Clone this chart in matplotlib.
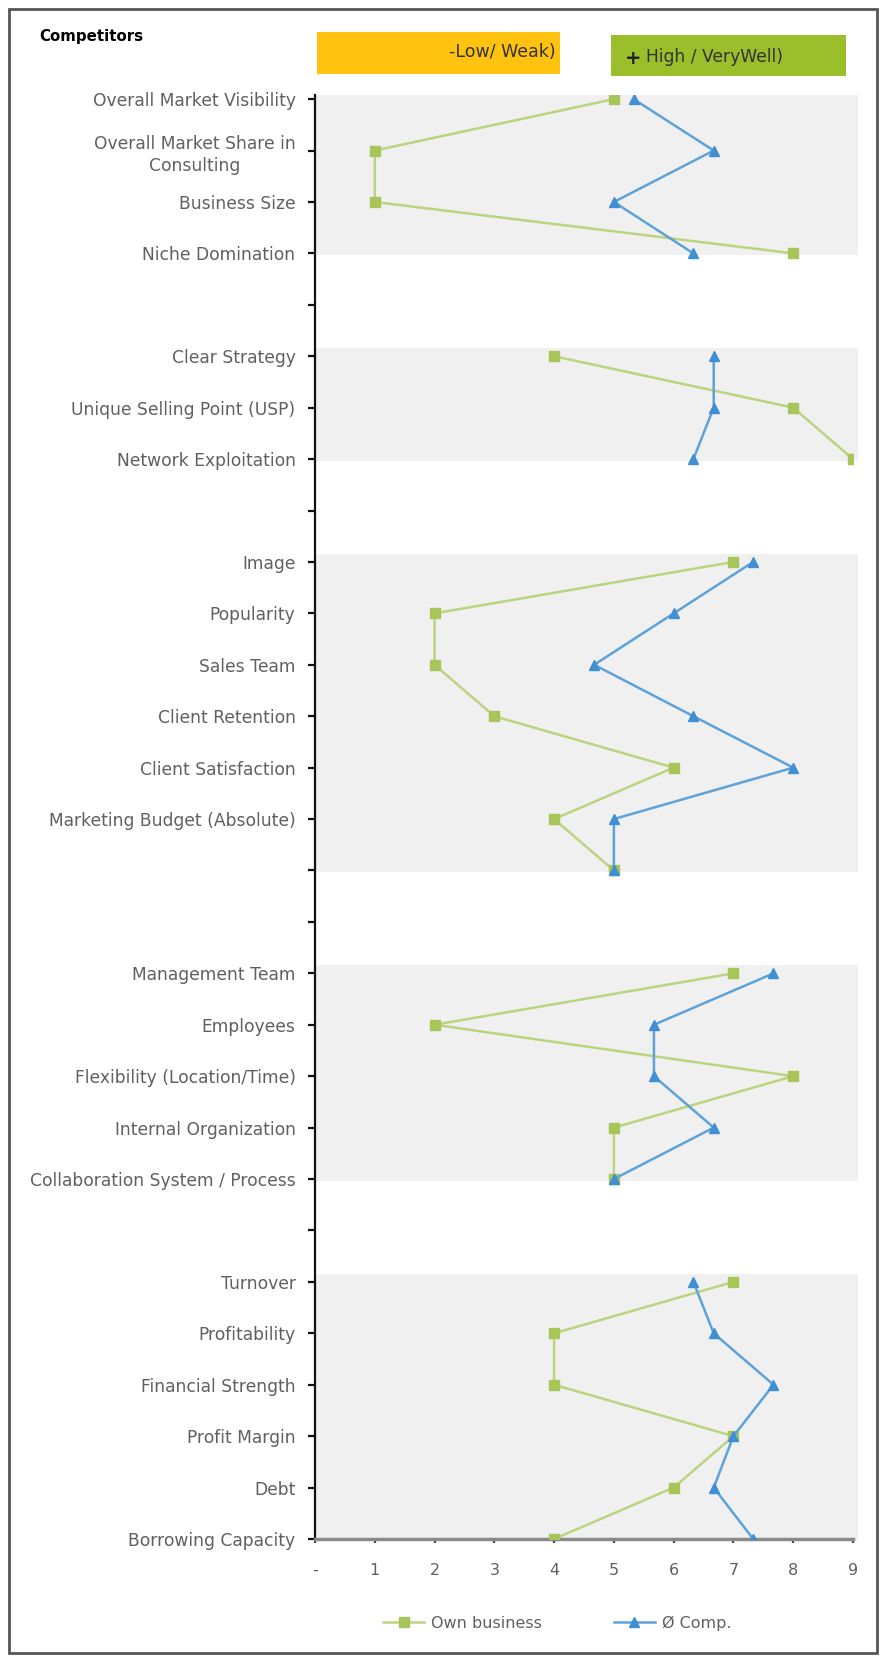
import numpy as np
import matplotlib.pyplot as plt
from matplotlib.patches import Rectangle

# criteria, top to bottom; empty strings are spacer rows between groups
criteria = [
    "Overall Market Visibility", "Overall Market Share in\nConsulting", "Business Size", "Niche Domination",
    "",
    "Clear Strategy", "Unique Selling Point (USP)", "Network Exploitation",
    "",
    "Image", "Popularity", "Sales Team", "Client Retention", "Client Satisfaction",
    "Marketing Budget (Absolute)", "",
    "",
    "Management Team", "Employees", "Flexibility (Location/Time)", "Internal Organization",
    "Collaboration System / Process",
    "",
    "Turnover", "Profitability", "Financial Strength", "Profit Margin", "Debt", "Borrowing Capacity",
]

nan = np.nan
own_business = [5, 1, 1, 8, nan, 4, 8, 9, nan, 7, 2, 2, 3, 6, 4, 5, nan,
                7, 2, 8, 5, 5, nan, 7, 4, 4, 7, 6, 4]
avg_comp = [5.33, 6.67, 5, 6.33, nan, 6.67, 6.67, 6.33, nan, 7.33, 6, 4.67, 6.33, 8, 5, 5, nan,
            7.67, 5.67, 5.67, 6.67, 5, nan, 6.33, 6.67, 7.67, 7, 6.67, 7.33]

# (first row, last row) of each shaded group
groups = [(0, 3), (5, 7), (9, 15), (17, 21), (23, 28)]

x_ticks = list(range(10))
x_labels = ["-"] + [str(i) for i in range(1, 10)]

W, H = 885, 1657
fig = plt.figure(figsize=(W / 100, H / 100), dpi=100)
ax = fig.add_axes([315 / W, 1 - 1539 / H, (853 - 315) / W, (1539 - 95) / H])

rows = np.arange(len(criteria))

for start, end in groups:
    top = max(start - 0.16, -0.08)
    ax.add_patch(Rectangle((0, top), 9.08, end + 0.03 - top, facecolor="#f0f0f0",
                           edgecolor="none", zorder=0, clip_on=False))

ax.plot(own_business, rows, color="#bcd37f", lw=1.8, marker="s", ms=6.5,
        mfc="#a8c55a", mec="#a8c55a", zorder=3, label="Own business")
ax.plot(avg_comp, rows, color="#5ea2da", lw=1.8, marker="^", ms=7,
        mfc="#3f8fd2", mec="#3f8fd2", zorder=4, label="Ø Comp.")

ax.set_xlim(0, 9)
ax.set_ylim(len(criteria) - 1, -0.08)
ax.set_yticks(rows)
ax.set_yticklabels(criteria, fontsize=12.3, color="#606060", multialignment="center",
                   linespacing=1.3)
ax.set_xticks(x_ticks)
ax.set_xticklabels(x_labels, fontsize=11.5, color="#606060")
ax.tick_params(axis="y", length=5, width=1.6, color="#111111", pad=9)
ax.tick_params(axis="x", length=3, width=1.6, color="#444444", pad=14)

for side in ["top", "right"]:
    ax.spines[side].set_visible(False)
ax.spines["left"].set_color("#111111")
ax.spines["left"].set_linewidth(1.6)
ax.spines["bottom"].set_color("#8a8a8a")
ax.spines["bottom"].set_linewidth(2.5)
ax.set_facecolor("none")

# header: title and the two scale boxes
fig.text(39 / W, 1 - 37 / H, "Competitors", fontsize=10.8, fontweight="bold",
         va="center", ha="left")
fig.patches.append(Rectangle((317 / W, 1 - 74 / H), (560 - 317) / W, 42 / H,
                             transform=fig.transFigure, facecolor="#ffc20e", edgecolor="none"))
fig.patches.append(Rectangle((611 / W, 1 - 76 / H), (846 - 611) / W, 41 / H,
                             transform=fig.transFigure, facecolor="#9bbf2b", edgecolor="none"))
fig.text(556 / W, 1 - 52 / H, "-Low/ Weak)", fontsize=12.5, color="#333333",
         ha="right", va="center")
fig.text(625 / W, 1 - 59 / H, "+", fontsize=14, fontweight="bold", color="#222222",
         ha="left", va="center")
fig.text(646 / W, 1 - 57 / H, "High / VeryWell)", fontsize=12.3, color="#333333",
         ha="left", va="center")

fig.legend(loc="center", bbox_to_anchor=(557 / W, 1 - 1623 / H), ncol=2, frameon=False,
           fontsize=11.5, labelcolor="#606060", columnspacing=4.5, handlelength=2.6,
           handletextpad=0.4)

# outer frame
fig.patches.append(Rectangle((9 / W, 1 - 1653 / H), (877 - 9) / W, (1653 - 9) / H,
                             transform=fig.transFigure, facecolor="none",
                             edgecolor="#555555", lw=2))

fig.savefig("out.png", dpi=100)
